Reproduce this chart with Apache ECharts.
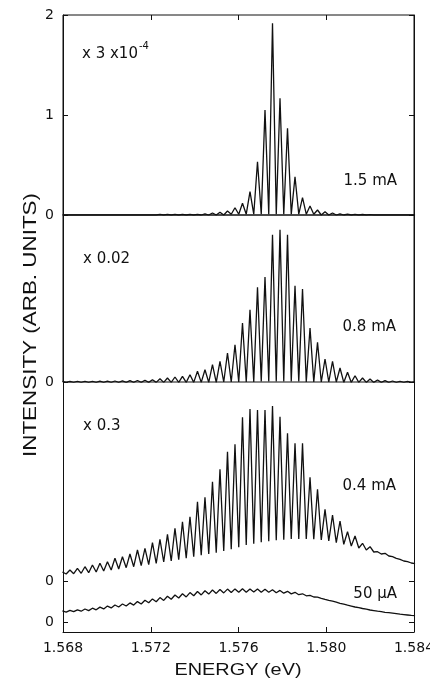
<!DOCTYPE html>
<html>
<head>
<meta charset="utf-8">
<script src="https://cdn.jsdelivr.net/npm/echarts@6/dist/echarts.min.js"></script>
<style>html,body{margin:0;padding:0;background:#fff}#c{width:430px;height:682px}</style>
</head>
<body>
<div id="c"></div>
<script>
// Longitudinal-mode energies (eV)
const modeE = [1.567974,1.568316,1.568658,1.569000,1.569342,1.569684,1.570026,1.570368,1.570710,1.571052,
  1.571394,1.571736,1.572078,1.572420,1.572762,1.573104,1.573446,1.573788,1.574130,1.574472,
  1.574814,1.575156,1.575498,1.575840,1.576182,1.576524,1.576866,1.577208,1.577550,1.577892,
  1.578234,1.578576,1.578918,1.579260,1.579602,1.579944,1.580286,1.580628,1.580970,1.581312,
  1.581654,1.581996,1.582338,1.582680,1.583022,1.583364,1.583706,1.584048];
// Energies of the minima between modes
const valleyE = [1.568145,1.568487,1.568829,1.569171,1.569513,1.569855,1.570197,1.570539,1.570881,1.571223,
  1.571565,1.571907,1.572249,1.572591,1.572933,1.573275,1.573617,1.573959,1.574301,1.574643,
  1.574985,1.575327,1.575669,1.576011,1.576353,1.576695,1.577037,1.577379,1.577721,1.578063,
  1.578405,1.578747,1.579089,1.579431,1.579773,1.580115,1.580457,1.580799,1.581141,1.581483,
  1.581825,1.582167,1.582509,1.582851,1.583193,1.583535,1.583877];

// 1.5 mA (x 3e-4)
const peaks15mA = [0,0,0,0,0,0,0,0,0,0,0,0,0,
  0.006,0.006,0.006,0.006,0.006,0.006,
  0.012,0.02,0.027,0.04,0.073,0.117,0.233,0.533,1.05,1.917,1.167,0.867,0.383,0.173,0.09,0.05,0.033,0.02,0.012,0.008,0.006,0.005,0.004,
  0,0,0,0,0,0];
const valleys15mA = [0,0,0,0,0,0,0,0,0,0,0,0,0,0,0,0,0,0,0,0,0,0,
  0.008,0.008,0.008,0.008,0.008,0.008,0.008,0.008,0.008,0.008,0.008,0.008,
  0,0,0,0,0,0,0,0,0,0,0,0,0];

// 0.8 mA (x 0.02)
const peaks08mA = [0.005,0.005,0.006,0.006,0.007,0.008,0.008,0.01,0.012,0.013,
  0.015,0.017,0.023,0.033,0.04,0.05,0.057,0.073,0.107,0.123,
  0.173,0.207,0.29,0.373,0.59,0.723,0.947,1.05,1.473,1.523,
  1.473,0.963,0.93,0.54,0.397,0.23,0.207,0.14,0.097,0.063,
  0.04,0.03,0.02,0.013,0.01,0.007,0.005,0];
const valleys08mA = [-0.004,-0.004,-0.004,-0.004,-0.004,-0.004,-0.004,-0.004,-0.004,-0.004,
  -0.004,-0.004,-0.004,-0.004,-0.004,-0.004,-0.004,-0.004,-0.004,-0.004,-0.004,
  0,0,0,0,0,
  0.006,0.006,0.006,0.006,0.006,0.006,
  0,0,0,0,0,
  -0.004,-0.004,-0.004,-0.004,-0.004,-0.004,-0.004,-0.004,-0.004,-0.004];

// 0.4 mA (x 0.3)
const peaks04mA = [0.09,0.11,0.127,0.143,0.16,0.177,0.193,0.227,0.243,0.27,
  0.31,0.327,0.383,0.417,0.467,0.527,0.593,0.643,0.793,0.837,
  0.993,1.117,1.293,1.367,1.637,1.72,1.71,1.71,1.75,1.643,
  1.477,1.377,1.377,1.037,0.917,0.717,0.66,0.6,0.493,0.45,
  0.377,0.343,0.293,0.277,0.243,0.217,0.193,0.173];
const valleys04mA = [0.07,0.073,0.077,0.083,0.09,0.1,0.11,0.12,0.133,0.143,
  0.153,0.163,0.177,0.19,0.2,0.213,0.227,0.243,0.257,0.27,
  0.283,0.3,0.317,0.337,0.36,0.373,0.387,0.397,0.407,0.413,
  0.42,0.42,0.42,0.417,0.41,0.4,0.383,0.367,0.35,0.33,
  0.31,0.29,0.27,0.25,0.227,0.2,0.18];

// 50 uA
const peaks50uA = [0.111,0.117,0.122,0.13,0.138,0.149,0.159,0.17,0.18,0.191,
  0.204,0.218,0.231,0.244,0.258,0.27,0.283,0.294,0.305,0.313,
  0.32,0.325,0.329,0.331,0.332,0.331,0.33,0.327,0.323,0.316,
  0.307,0.297,0.282,0.266,0.249,0.226,0.208,0.187,0.168,0.15,
  0.135,0.12,0.108,0.097,0.088,0.078,0.07,0.063];
const valleys50uA = [0.099,0.103,0.108,0.114,0.122,0.131,0.141,0.15,0.16,0.169,
  0.18,0.192,0.203,0.216,0.228,0.24,0.251,0.262,0.271,0.279,
  0.286,0.291,0.295,0.297,0.298,0.299,0.298,0.297,0.293,0.288,
  0.281,0.273,0.262,0.25,0.237,0.216,0.198,0.178,0.159,0.143,
  0.128,0.114,0.103,0.093,0.083,0.074,0.066];

const currentLabels = ['1.5 mA', '0.8 mA', '0.4 mA', '50 \u00b5A'];
const scaleLabels = ['x 3 x10', 'x 0.02', 'x 0.3'];
const scaleExponent = '-4';
const xTitle = 'ENERGY (eV)';
const yTitle = 'INTENSITY (ARB. UNITS)';

function trace(peaks, valleys) {
  const pts = [];
  for (let i = 0; i < modeE.length; i++) {
    pts.push([modeE[i], peaks[i]]);
    if (i < valleyE.length) pts.push([valleyE[i], valleys[i]]);
  }
  return pts;
}

const INK = '#111';
const numFont = { fontFamily: 'DejaVu Sans', fontSize: 14, color: INK };
const gridsDef = [
  { top: 15, height: 200, border: true },
  { top: 215, height: 167, border: true },
  { top: 382, height: 199, border: false },
  { top: 581, height: 51, border: false }
];
const yRanges = [[0, 2], [0, 1.67], [0, 1.99], [-0.1, 0.41]];

const grid = gridsDef.map(g => ({
  left: 63, top: g.top, width: 351, height: g.height,
  containLabel: false, outerBoundsMode: 'none',
  show: g.border, borderColor: INK, borderWidth: 1, backgroundColor: 'transparent'
}));

const xAxis = gridsDef.map((g, i) => ({
  type: 'value', gridIndex: i, min: 1.568, max: 1.584, interval: 0.004,
  position: i === 0 ? 'top' : 'bottom',
  splitLine: { show: false },
  axisLine: { show: i === 3, onZero: false, lineStyle: { color: INK, width: 1 } },
  axisTick: { show: i === 0 || i === 3, inside: true, length: 5, lineStyle: { color: INK, width: 1 } },
  axisLabel: Object.assign({ show: i === 3, margin: 9, formatter: v => v.toFixed(3), hideOverlap: false }, numFont)
}));

const yAxis = [];
gridsDef.forEach((g, i) => {
  ['left', 'right'].forEach(side => {
    const ax = {
      type: 'value', gridIndex: i, position: side, offset: 0,
      min: yRanges[i][0], max: yRanges[i][1],
      splitLine: { show: false },
      axisLine: { show: true, onZero: false, lineStyle: { color: INK, width: 1 } },
      axisTick: { show: true, inside: true, length: 5, lineStyle: { color: INK, width: 1 } },
      axisLabel: Object.assign({ show: side === 'left', margin: 9, showMinLabel: true, showMaxLabel: true }, numFont)
    };
    if (i === 0) {
      ax.interval = 1;
    } else {
      ax.axisTick.customValues = [0];
      ax.axisLabel.customValues = [0];
    }
    yAxis.push(ax);
  });
});

const traces = [
  trace(peaks15mA, valleys15mA),
  trace(peaks08mA, valleys08mA),
  trace(peaks04mA, valleys04mA),
  trace(peaks50uA, valleys50uA)
];

const series = traces.map((d, i) => ({
  type: 'line', xAxisIndex: i, yAxisIndex: i * 2, data: d,
  symbol: 'none', showSymbol: false, clip: true, silent: true,
  lineStyle: { color: INK, width: 1.3 }
}));

function txt(text, x, y, align, size, family, extra) {
  return Object.assign({
    type: 'text', x: x, y: y, silent: true,
    style: {
      text: text, fill: INK,
      font: size + 'px "' + (family || 'DejaVu Sans') + '"',
      align: align, verticalAlign: 'middle',
      textAlign: align, textVerticalAlign: 'middle'
    }
  }, extra || {});
}

const graphic = [
  txt(scaleLabels[0], 82, 54, 'left', 15),
  txt(scaleExponent, 139, 46, 'left', 10),
  txt(currentLabels[0], 397, 181, 'right', 15),
  txt(scaleLabels[1], 83, 259, 'left', 15),
  txt(currentLabels[1], 396, 327, 'right', 15),
  txt(scaleLabels[2], 83, 426, 'left', 15),
  txt(currentLabels[2], 396, 486, 'right', 15),
  txt(currentLabels[3], 397, 594, 'right', 15),
  txt(xTitle, 238, 670, 'center', 17, 'Liberation Sans', { scaleX: 1.17 }),
  txt(yTitle, 31, 325, 'center', 18, 'Liberation Sans', { rotation: Math.PI / 2, scaleX: 1.245 })
];

const chart = echarts.init(document.getElementById('c'), null, { renderer: 'canvas' });
chart.setOption({
  animation: false,
  backgroundColor: '#fff',
  grid: grid,
  xAxis: xAxis,
  yAxis: yAxis,
  series: series,
  graphic: graphic
});
</script>
</body>
</html>
